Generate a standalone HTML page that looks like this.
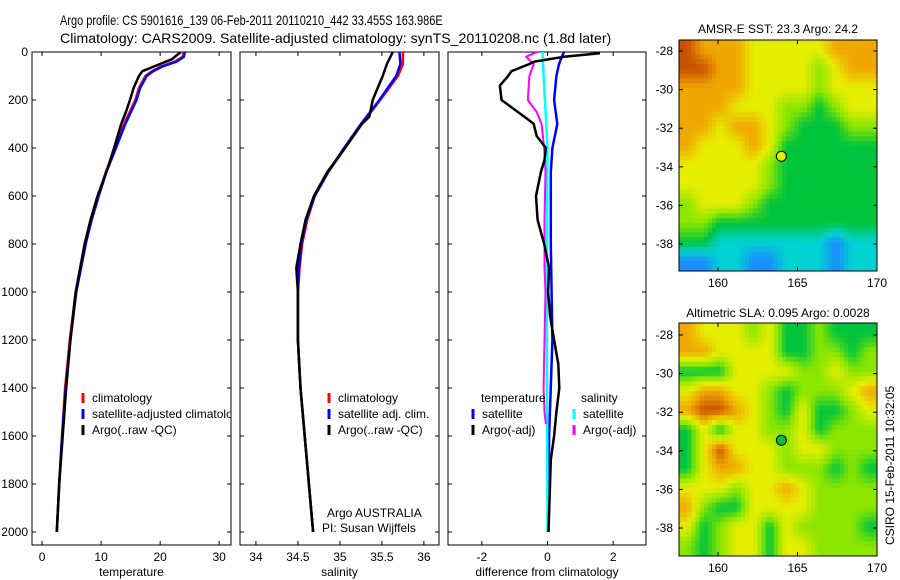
<!DOCTYPE html>
<html><head><meta charset="utf-8"><style>
html,body{margin:0;padding:0;background:#fff}
svg{display:block;font-family:"Liberation Sans",sans-serif}
</style></head><body>
<svg id="fig" width="900" height="580" xmlns="http://www.w3.org/2000/svg">
<text id="t1" x="0" y="0" font-size="14">Argo profile: CS 5901616_139 06-Feb-2011 20110210_442 33.455S 163.986E</text>
<text id="t2" x="0" y="0" font-size="14">Climatology: CARS2009. Satellite-adjusted climatology: synTS_20110208.nc (1.8d later)</text>
<text x="778" y="33" font-size="12" text-anchor="middle">AMSR-E SST: 23.3 Argo: 24.2</text>
<text x="778" y="317" font-size="12" text-anchor="middle">Altimetric SLA: 0.095 Argo: 0.0028</text>
<text transform="translate(894,545) rotate(-90)" font-size="12">CSIRO 15-Feb-2011 10:32:05</text>
</svg>
<script>
// ---- depth axis data ----
const yTicks=[0,200,400,600,800,1000,1200,1400,1600,1800,2000];
// temperature panel
const tClimDepth=[0,20,40,60,80,100,150,200,300,400,500,600,700,800,1000,1200,1400,1600,1800,2000];
const tClim=[24,23.8,22.5,20.2,18.6,17.5,16.4,15.8,13.9,12.4,10.8,9.5,8.3,7.3,5.7,4.7,3.9,3.4,2.9,2.5];
const tSat=[24.2,24,22.8,20.4,18.8,17.7,16.6,16.0,14.1,12.5,10.9,9.6,8.4,7.4,5.8,4.8,4.0,3.4,2.9,2.5];
const tArgoDepth=[0,30,60,80,100,150,200,250,300,350,400,500,600,700,800,1000,1200,1400,1600,1800,2000];
const tArgo=[23.5,22,19,17,16.4,15.5,14.9,14.2,13.4,12.8,12.2,10.9,9.4,8.2,7.2,5.7,4.8,4.1,3.5,2.9,2.5];
const tXTicks=[0,10,20,30];
// salinity panel
const sDepth=[0,50,100,200,300,400,500,600,700,800,900,1000,1200,1400,1600,1800,2000];
const sClim=[35.75,35.75,35.69,35.48,35.26,35.06,34.86,34.70,34.61,34.55,34.52,34.5,34.5,34.53,34.58,34.63,34.68];
const sSat=[35.71,35.72,35.67,35.47,35.25,35.05,34.86,34.70,34.60,34.54,34.51,34.5,34.5,34.53,34.58,34.63,34.68];
const sArgoDepth=[0,50,100,200,270,300,400,500,600,700,800,900,1000,1200,1400,1600,1800,2000];
const sArgo=[35.63,35.56,35.51,35.39,35.35,35.26,35.06,34.85,34.69,34.59,34.53,34.48,34.5,34.5,34.53,34.58,34.63,34.68];
const sXTicks=[34,34.5,35,35.5,36];
// difference panel
const dTSatDepth=[0,50,100,200,300,400,500,800,1200,1600,2000];
const dTSat=[0.5,0.35,0.27,0.2,0.3,0.15,0.1,0.1,0.15,0.05,0.03];
const dTArgoDepth=[5,20,40,50,80,100,140,200,230,250,280,300,350,400,450,500,600,700,800,900,1000,1100,1200,1300,1400,1500,1600,1700,2000];
const dTArgo=[1.6,0.5,-0.4,-0.55,-1.1,-1.2,-1.45,-1.4,-1.1,-0.9,-0.6,-0.42,-0.33,-0.05,-0.09,-0.2,-0.35,-0.3,-0.1,0.05,0.02,0.08,0.2,0.33,0.36,0.27,0.2,0.1,0.03];
const dSSatDepth=[0,100,200,300,400,1000,2000];
const dSSat=[-0.15,-0.12,-0.08,-0.04,0,-0.02,0];
const dSArgoDepth=[0,20,50,100,200,250,300,400,500,700,900,1000,1200,1400,1500,1550];
const dSArgo=[-0.33,-0.65,-0.42,-0.55,-0.6,-0.33,-0.18,-0.1,-0.06,-0.09,-0.09,-0.06,-0.09,-0.12,-0.09,-0.05];
const dXTicks=[-2,0,2];
// maps: 12x12 colour levels (0 blue .. 6 dark orange), rows north->south
const sstGrid=[
[6,5,5,5,4,4,4,4,4,5,5,5],[6,6,5,5,4,4,4,4,3,4,5,5],[5,5,5,5,4,4,4,4,3,4,4,4],
[5,5,5,4,4,4,3,3,2,3,4,4],[5,5,4,5,5,4,3,2,2,2,3,3],[5,4,4,4,5,4,2,2,2,2,2,2],
[4,4,4,4,4,3,2,2,2,2,2,2],[4,4,4,4,4,3,2,2,2,2,2,2],[3,4,4,4,3,2,2,2,2,2,2,2],
[3,3,2,2,2,2,2,2,2,2,2,2],[2,2,1,1,1,1,1,1,1,0,1,1],[0,0,1,1,0,0,1,1,1,0,1,1]];
const slaGrid=[
[5,4,4,4,3,4,2,2,3,2,2,2],[5,5,4,4,4,4,2,2,3,3,2,3],[2,2,2,4,4,4,4,3,3,4,3,3],
[4,5,5,4,4,3,2,3,3,3,4,5],[5,6,6,5,4,3,2,4,2,2,3,4],[2,4,2,4,4,3,3,4,2,3,3,3],
[2,4,6,4,4,4,3,4,4,3,3,3],[2,4,5,5,4,4,3,3,3,2,3,2],[4,4,4,3,4,4,5,4,3,3,3,3],
[5,3,2,2,4,4,4,4,3,3,3,3],[4,2,3,4,4,2,4,3,3,3,3,2],[3,2,3,4,4,2,4,4,3,3,3,3]];
const lonTicks=[160,165,170];
const latTicks=[-28,-30,-32,-34,-36,-38];
const argoLon=[163.986], argoLat=[-33.455];

const NS='http://www.w3.org/2000/svg';
const svg=document.getElementById('fig');
function fitTitle(id,x,y,w){
  const t=document.getElementById(id);
  const n=t.getComputedTextLength()||w;
  t.setAttribute('transform','translate('+x+','+y+') scale('+(w/n).toFixed(4)+',1)');
}
fitTitle('t1',60,25,383);
fitTitle('t2',60,43,552);
function mk(tag,attrs,parent){const e=document.createElementNS(NS,tag);for(const k in attrs)e.setAttribute(k,attrs[k]);(parent||svg).appendChild(e);return e;}
const Y=d=>52+d*0.24;

function panel(name,x0,x1,xmin,xmax,xticks,xlabel,showY){
  const g=mk('g',{});
  
  
  const X=v=>x0+(v-xmin)/(xmax-xmin)*(x1-x0);
  const top=52,bot=545;
  const cid='clip-'+name;
  const cp=mk('clipPath',{id:cid},g);mk('rect',{x:x0,y:top,width:x1-x0,height:bot-top},cp);
  const frame=mk('rect',{x:x0,y:top,width:x1-x0,height:bot-top,fill:'none',stroke:'#000','stroke-width':1},g);
  
  
  yTicks.forEach(d=>{
    mk('line',{x1:x0,x2:x0+4,y1:Y(d),y2:Y(d),stroke:'#000'},g);
    mk('line',{x1:x1,x2:x1-4,y1:Y(d),y2:Y(d),stroke:'#000'},g);
    if(showY){const t=mk('text',{x:x0-4,y:Y(d)+4,'font-size':12,'text-anchor':'end'},g);t.textContent=d;
      
      }
  });
  xticks.forEach(v=>{
    mk('line',{x1:X(v),x2:X(v),y1:bot,y2:bot-4,stroke:'#000'},g);
    mk('line',{x1:X(v),x2:X(v),y1:top,y2:top+4,stroke:'#000'},g);
    const t=mk('text',{x:X(v),y:561,'font-size':12,'text-anchor':'middle'},g);t.textContent=v;
    
    
  });
  const xl=mk('text',{x:(x0+x1)/2,y:576,'font-size':12,'text-anchor':'middle'},g);xl.textContent=xlabel;
  
  
  const inner=mk('g',{'clip-path':'url(#'+cid+')'},g);
  return {X,inner,g};
}
function line(p,depths,vals,color,w,name){
  const pts=depths.map((d,i)=>p.X(vals[i]).toFixed(1)+','+Y(d).toFixed(1)).join(' ');
  const l=mk('polyline',{points:pts,fill:'none',stroke:color,'stroke-width':w,'stroke-linejoin':'round'},p.inner);
  
  
}
function legend(parent,x,y,color,label,name){
  if(color){mk('line',{x1:x,x2:x,y1:y-9,y2:y+1,stroke:color,'stroke-width':3},parent);}
  const t=mk('text',{x:x+9,y:y,'font-size':12},parent);t.textContent=label;
  
  
}
// panel 1
const p1=panel('temperature-panel',32,231,-1.7,32,tXTicks,'temperature',true);
line(p1,tClimDepth,tClim,'#f00',2.5,'temp-climatology-line');
line(p1,tClimDepth,tSat,'#00f',2.5,'temp-satellite-line');
line(p1,tArgoDepth,tArgo,'#000',2.5,'temp-argo-line');
legend(p1.inner,83,402,'#f00','climatology','legend-climatology');
legend(p1.inner,83,418,'#00f','satellite-adjusted climatology','legend-satellite-adjusted');
legend(p1.inner,83,434,'#000','Argo(..raw -QC)','legend-argo');
// panel 2
const p2=panel('salinity-panel',240,439,33.81,36.18,sXTicks,'salinity',false);
line(p2,sDepth,sClim,'#f00',2.5,'sal-climatology-line');
line(p2,sDepth,sSat,'#00f',2.5,'sal-satellite-line');
line(p2,sArgoDepth,sArgo,'#000',2.5,'sal-argo-line');
legend(p2.inner,329,402,'#f00','climatology','legend-sal-climatology');
legend(p2.inner,329,418,'#00f','satellite adj. clim.','legend-sal-satellite');
legend(p2.inner,329,434,'#000','Argo(..raw -QC)','legend-sal-argo');
legend(p2.inner,318,517,null,'Argo AUSTRALIA','float-owner-label');
legend(p2.inner,313,532,null,'PI: Susan Wijffels','pi-label');
// panel 3
const p3=panel('difference-panel',448,646,-3.03,3.0,dXTicks,'difference from climatology',false);
line(p3,dTSatDepth,dTSat,'#00f',2.5,'diff-temp-satellite-line');
line(p3,dSSatDepth,dSSat,'#0ff',2.5,'diff-sal-satellite-line');
line(p3,dSArgoDepth,dSArgo,'#f0f',2,'diff-sal-argo-line');
line(p3,dTArgoDepth,dTArgo,'#000',2.5,'diff-temp-argo-line');
legend(p3.inner,472,402,null,'temperature','legend-temperature-header');
legend(p3.inner,473,418,'#00f','satellite','legend-diff-temp-satellite');
legend(p3.inner,473,434,'#000','Argo(-adj)','legend-diff-temp-argo');
legend(p3.inner,572,402,null,'salinity','legend-salinity-header');
legend(p3.inner,574,418,'#0ff','satellite','legend-diff-sal-satellite');
legend(p3.inner,574,434,'#f0f','Argo(-adj)','legend-diff-sal-argo');

// maps
const stops=[[26,140,255],[0,210,210],[0,196,60],[140,230,0],[230,238,0],[240,168,0],[200,80,0]];
function colorOf(v){
  v=Math.max(0,Math.min(6,v));const i=Math.min(5,Math.floor(v)),f=v-i;
  const a=stops[i],b=stops[i+1];
  return 'rgb('+a.map((c,k)=>Math.round(c+(b[k]-c)*f)).join(',')+')';
}
function sample(grid,fr,fc){
  const R=grid.length,C=grid[0].length;
  fr=Math.max(0,Math.min(R-1,fr));fc=Math.max(0,Math.min(C-1,fc));
  const r0=Math.floor(fr),c0=Math.floor(fc),r1=Math.min(R-1,r0+1),c1=Math.min(C-1,c0+1);
  const a=fr-r0,b=fc-c0;
  return grid[r0][c0]*(1-a)*(1-b)+grid[r0][c1]*(1-a)*b+grid[r1][c0]*a*(1-b)+grid[r1][c1]*a*b;
}
function map(name,grid,top,lat28,bottom,markerColor){
  const x0=679,x1=877;
  const g=mk('g',{});
  
  
  const LX=l=>x0+(l-157.55)/(170-157.55)*(x1-x0);
  const LY=la=>lat28+(-28-la)*19.3;
  const rows=grid.length,cols=grid[0].length,sub=4;
  const cw=(x1-x0)/(cols*sub),ch=(bottom-top)/(rows*sub);
  for(let r=0;r<rows*sub;r++)for(let c=0;c<cols*sub;c++){
    const v=sample(grid,(r+0.5)/sub-0.5,(c+0.5)/sub-0.5);
    const cell=mk('rect',{x:(x0+c*cw).toFixed(2),y:(top+r*ch).toFixed(2),width:(cw+0.5).toFixed(2),height:(ch+0.5).toFixed(2),fill:colorOf(v)},g);
    
    
  }
  mk('rect',{x:x0,y:top,width:x1-x0,height:bottom-top,fill:'none',stroke:'#000'},g);
  lonTicks.forEach(l=>{
    mk('line',{x1:LX(l),x2:LX(l),y1:bottom,y2:bottom-4,stroke:'#000'},g);
    mk('line',{x1:LX(l),x2:LX(l),y1:top,y2:top+4,stroke:'#000'},g);
    const t=mk('text',{x:LX(l),y:bottom+16,'font-size':12,'text-anchor':'middle'},g);t.textContent=l;
    
    
  });
  latTicks.forEach(la=>{
    mk('line',{x1:x0,x2:x0+4,y1:LY(la),y2:LY(la),stroke:'#000'},g);
    mk('line',{x1:x1,x2:x1-4,y1:LY(la),y2:LY(la),stroke:'#000'},g);
    const t=mk('text',{x:x0-6,y:LY(la)+4,'font-size':12,'text-anchor':'end'},g);t.textContent=la;
    
    
  });
  const m=mk('circle',{cx:LX(argoLon[0]),cy:LY(argoLat[0]),r:5,fill:markerColor,stroke:'#000'},g);
  
  
}
map('sst-map',sstGrid,40,51,271,'#e6ee00');
map('sla-map',slaGrid,323,335,556,'#00c43c');
</script>
</body></html>
